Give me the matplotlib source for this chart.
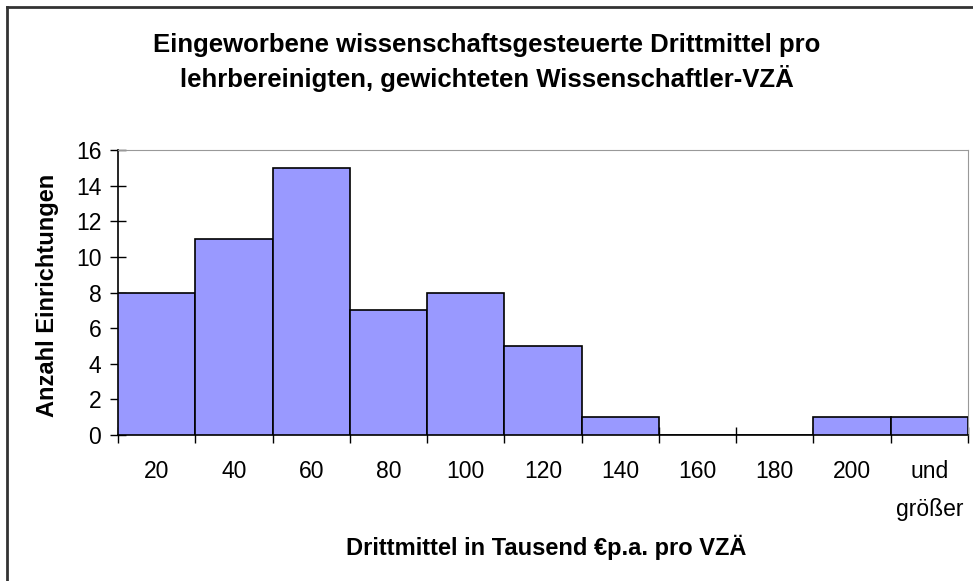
#!/usr/bin/env python3

# Import libraries
import matplotlib.pyplot as plt
import matplotlib.lines as mlines

plt.rcParams["font.family"] = ["Liberation Sans", "DejaVu Sans"]

# Histogram data (Drittmittel classes and number of institutions)
categories = ["20", "40", "60", "80", "100", "120", "140", "160", "180", "200",
              "und\ngrößer"]
counts = [8, 11, 15, 7, 8, 5, 1, 0, 0, 1, 1]
y_ticks = [0, 2, 4, 6, 8, 10, 12, 14, 16]

title = ("Eingeworbene wissenschaftsgesteuerte Drittmittel pro\n"
         "lehrbereinigten, gewichteten Wissenschaftler-VZÄ")
x_label = "Drittmittel in Tausend €p.a. pro VZÄ"
y_label = "Anzahl Einrichtungen"

fig = plt.figure(figsize=(9.73, 5.81), dpi=100)
ax = fig.add_axes([0.1213, 0.2513, 0.8736, 0.4905])

x = list(range(len(categories)))
ax.bar(x, counts, width=1.0, color="#9999FF", edgecolor="black",
       linewidth=1.2, zorder=3)

ax.set_xlim(-0.5, len(categories) - 0.5)
ax.set_ylim(0, 16)
ax.set_yticks(y_ticks)
ax.tick_params(axis="y", direction="inout", length=12, width=1,
               labelsize=16.5, pad=6)

# category labels in the middle, ticks at the class borders
ax.set_xticks(x)
ax.set_xticklabels(categories, fontsize=16.5, linespacing=1.85, va="top")
ax.tick_params(axis="x", which="major", length=0, pad=18)
ax.set_xticks([i - 0.5 for i in range(len(categories) + 1)], minor=True)
ax.tick_params(axis="x", which="minor", direction="inout", length=12, width=1)

for side in ["top", "right"]:
    ax.spines[side].set_color("#999999")
for side in ["left", "bottom"]:
    ax.spines[side].set_color("black")
    ax.spines[side].set_linewidth(1.2)

ax.set_xlabel(x_label, fontsize=17, fontweight="bold", va="center")
ax.xaxis.set_label_coords(0.5035, -0.396)
ax.set_ylabel(y_label, fontsize=17, fontweight="bold", va="center")
ax.yaxis.set_label_coords(-0.0824, 0.49)

fig.text(0.5, 0.892, title, ha="center", va="center", fontsize=18.5,
         fontweight="bold", linespacing=1.35)

# chart border (cut off at right and bottom)
fig.add_artist(mlines.Line2D([0.0075, 1.0], [0.988, 0.988], color="#333333",
                             linewidth=2, transform=fig.transFigure))
fig.add_artist(mlines.Line2D([0.0075, 0.0075], [0.0, 0.988], color="#333333",
                             linewidth=2, transform=fig.transFigure))

fig.savefig("out.png", dpi=100)
